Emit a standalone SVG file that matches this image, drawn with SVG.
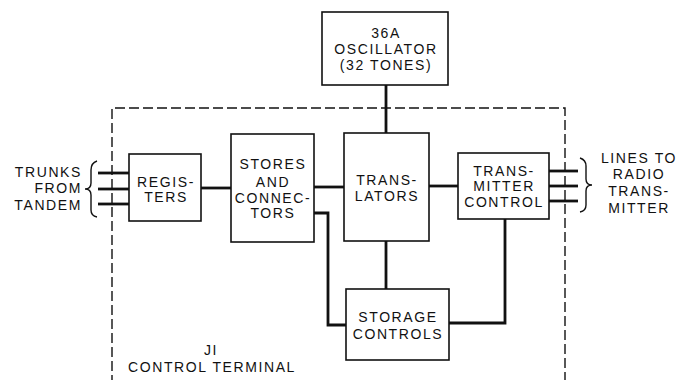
<svg xmlns="http://www.w3.org/2000/svg" width="680" height="380" viewBox="0 0 680 380">
<style>
.box{fill:#fff;stroke:#111;stroke-width:1.6}
.t{font-family:"Liberation Sans",Arial,sans-serif;font-size:14px;letter-spacing:1.6px;fill:#111;text-anchor:middle}
.tr{font-family:"Liberation Sans",Arial,sans-serif;font-size:14px;letter-spacing:1.6px;fill:#111;text-anchor:end}
.c{fill:none;stroke:#111;stroke-width:2.8}
.b{fill:none;stroke:#111;stroke-width:1.4}
</style>
<rect width="680" height="380" fill="#fff"/>
<g id="boundary">
<path d="M112,385 V108 H565 V385" fill="none" stroke="#111" stroke-width="1.4" stroke-dasharray="10,4"/>
</g>
<g id="connectors">
<line class="c" x1="386" y1="85" x2="386" y2="133"/>
<line class="c" x1="201" y1="188" x2="231" y2="188"/>
<line class="c" x1="314" y1="187" x2="344" y2="187"/>
<line class="c" x1="429" y1="186" x2="458" y2="186"/>
<line class="c" x1="386" y1="241" x2="386" y2="289"/>
<polyline class="c" points="314,213 328,213 328,325 346,325"/>
<polyline class="c" points="449,323 505,323 505,219"/>
<line class="c" x1="98" y1="173" x2="129" y2="173"/>
<line class="c" x1="98" y1="189" x2="129" y2="189"/>
<line class="c" x1="98" y1="204" x2="129" y2="204"/>
<line class="c" x1="549" y1="171" x2="578" y2="171"/>
<line class="c" x1="549" y1="186" x2="578" y2="186"/>
<line class="c" x1="549" y1="201" x2="578" y2="201"/>
</g>
<g id="oscillator">
<rect class="box" x="322" y="12" width="126" height="73"/>
<text class="t" x="386" y="38">36A</text>
<text class="t" x="386" y="54">OSCILLATOR</text>
<text class="t" x="386" y="70">(32 TONES)</text>
</g>
<g id="registers">
<rect class="box" x="129" y="154" width="72" height="67"/>
<text class="t" x="166" y="187">REGIS-</text>
<text class="t" x="166" y="202">TERS</text>
</g>
<g id="stores">
<rect class="box" x="231" y="134" width="83" height="108"/>
<text class="t" x="273" y="169">STORES</text>
<text class="t" x="273" y="187">AND</text>
<text class="t" x="273" y="203">CONNEC-</text>
<text class="t" x="273" y="218">TORS</text>
</g>
<g id="translators">
<rect class="box" x="344" y="133" width="85" height="108"/>
<text class="t" x="387" y="185">TRANS-</text>
<text class="t" x="387" y="201">LATORS</text>
</g>
<g id="transmitter-control">
<rect class="box" x="458" y="153" width="91" height="66"/>
<text class="t" x="504" y="176">TRANS-</text>
<text class="t" x="504" y="191">MITTER</text>
<text class="t" x="504" y="207">CONTROL</text>
</g>
<g id="storage-controls">
<rect class="box" x="346" y="289" width="103" height="71"/>
<text class="t" x="398" y="322">STORAGE</text>
<text class="t" x="398" y="339">CONTROLS</text>
</g>
<g id="trunks">
<path class="b" d="M97,161 Q91,163 91,170 V183 Q91,189 85,189 Q91,189 91,195 V210 Q91,216 97,217"/>
<text class="tr" x="82" y="177">TRUNKS</text>
<text class="tr" x="82" y="193">FROM</text>
<text class="tr" x="82" y="210">TANDEM</text>
</g>
<g id="lines-to-radio">
<path class="b" d="M580,158 Q586,160 586,166 V179 Q586,185 592,185 Q586,185 586,191 V205 Q586,211 580,212"/>
<text class="t" x="639" y="163">LINES TO</text>
<text class="t" x="639" y="179">RADIO</text>
<text class="t" x="639" y="196">TRANS-</text>
<text class="t" x="639" y="213">MITTER</text>
</g>
<g id="terminal-label">
<text class="t" x="211" y="355">JI</text>
<text class="t" x="212" y="372">CONTROL  TERMINAL</text>
</g>
</svg>
